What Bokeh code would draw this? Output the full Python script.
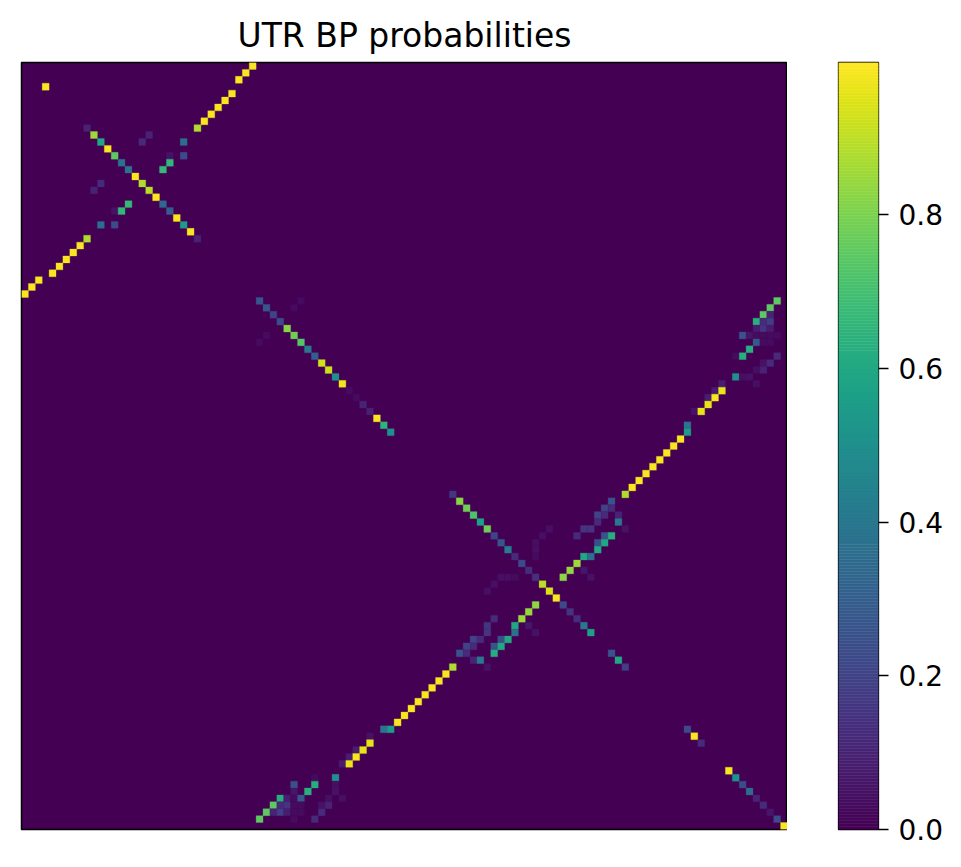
import numpy as np
from bokeh.plotting import figure
from bokeh.layouts import row
from bokeh.models import (ColumnDataSource, LinearColorMapper, FixedTicker,
                          PrintfTickFormatter, Range1d)
from bokeh.palettes import Viridis256
from bokeh.embed import file_html
from bokeh.resources import INLINE

N = 111
VMAX = 0.998
TITLE = "UTR BP probabilities"
cbar_ticks = [0.0, 0.2, 0.4, 0.6, 0.8]

# Main-diagonal cells
diag_idx = [3,
            9, 10, 11, 12, 13, 14, 15, 16, 17, 18, 19, 20, 21, 22, 23, 24, 25,
            34, 35, 36, 37, 38, 39, 40, 41, 42, 43, 44, 45, 46, 47, 48, 49, 50, 51, 52, 53,
            62, 63, 64, 65, 66, 67, 68, 69, 70, 71, 72, 73, 74, 75, 76, 77, 78, 79, 80, 81, 82,
            85, 86, 87,
            96, 97, 98,
            102, 103, 104, 105, 106, 107, 108, 109, 110]
diag_p = [0.99,
          0.10, 0.85, 0.60, 0.99, 0.75, 0.37, 0.38, 0.99, 0.88, 0.89, 0.99, 0.34, 0.30, 0.99, 0.55, 0.99, 0.10,
          0.26, 0.26, 0.20, 0.23, 0.82, 0.78, 0.73, 0.40, 0.30, 0.93, 0.92, 0.50, 0.98, 0.03, 0.03, 0.10, 0.09, 0.99, 0.65, 0.50,
          0.15, 0.82, 0.78, 0.72, 0.57, 0.78, 0.20, 0.26, 0.42, 0.12, 0.22, 0.13, 0.14, 0.90, 0.94, 0.99, 0.22, 0.15, 0.13, 0.40, 0.57,
          0.25, 0.60, 0.18,
          0.22, 0.99, 0.12,
          0.99, 0.50, 0.23, 0.35, 0.10, 0.12, 0.06, 0.23, 0.99]

# Off-diagonal pairs (upper triangle, mirrored below)
pair_i = [0, 1, 2, 4, 5, 6, 7, 8, 9,
          10, 11, 11, 13, 13, 14, 15,
          34, 35, 36, 36, 37, 37, 37, 38, 38, 38, 39, 39, 39, 39, 39, 39, 40, 40, 40,
          41, 42, 42, 42, 43, 43, 44, 44, 45, 45, 45, 46, 46, 47, 47, 48, 48, 49,
          50, 50, 52, 53, 54, 55, 56, 57, 58, 59, 60, 61, 62,
          63, 64, 64, 65, 65, 65, 66, 66, 67, 67, 67, 67, 68, 68, 68, 68, 69, 69, 69,
          70, 70, 71, 71, 71, 72, 73, 73, 74, 74,
          34, 35]
pair_j = [33, 32, 31, 30, 29, 28, 27, 26, 25,
          18, 17, 23, 21, 23, 21, 20,
          109, 108, 107, 108, 106, 107, 108, 106, 107, 108, 104, 105, 106, 107, 108, 109, 106, 107, 108,
          105, 103, 104, 109, 107, 108, 106, 107, 103, 104, 105, 101, 106, 100, 101, 99, 100, 99,
          97, 98, 96, 96, 95, 94, 93, 92, 91, 90, 89, 88, 87,
          85, 84, 85, 83, 84, 86, 83, 86, 81, 82, 76, 87, 75, 80, 84, 85, 74, 83, 84,
          74, 83, 74, 81, 82, 80, 79, 81, 78, 82,
          40, 39]
pair_p = [0.99, 0.99, 0.99, 0.99, 0.99, 0.99, 0.99, 0.99, 0.88,
          0.10, 0.12, 0.36, 0.05, 0.23, 0.66, 0.67,
          0.75, 0.75, 0.75, 0.10, 0.63, 0.12, 0.18, 0.08, 0.15, 0.08, 0.25, 0.06, 0.03, 0.03, 0.03, 0.03, 0.27, 0.03, 0.03,
          0.63, 0.03, 0.62, 0.12, 0.05, 0.12, 0.04, 0.10, 0.50, 0.04, 0.05, 0.08, 0.04, 0.08, 0.97, 0.08, 0.99, 0.96,
          0.05, 0.96, 0.38, 0.55, 0.99, 0.99, 0.99, 0.99, 0.99, 0.99, 0.99, 0.99, 0.88,
          0.25, 0.20, 0.12, 0.20, 0.12, 0.10, 0.12, 0.40, 0.15, 0.15, 0.04, 0.05, 0.04, 0.12, 0.25, 0.62, 0.04, 0.24, 0.60,
          0.04, 0.60, 0.03, 0.60, 0.37, 0.85, 0.84, 0.06, 0.83, 0.05,
          0.03, 0.03]

rows, cols, vals = [], [], []
for i, j, v in zip(pair_i, pair_j, pair_p):
    rows += [i, j]
    cols += [j, i]
    vals += [v, v]
for k, v in zip(diag_idx, diag_p):
    rows.append(k)
    cols.append(k)
    vals.append(v)

src = ColumnDataSource(dict(x=np.array(cols) + 0.5, y=np.array(rows) + 0.5, v=vals))
mapper = LinearColorMapper(palette=Viridis256, low=0.0, high=VMAX)

# ---- heatmap ----
p = figure(frame_width=766, frame_height=767,
           x_range=Range1d(0, N), y_range=Range1d(N, 0),
           output_backend="svg", toolbar_location=None, title=TITLE,
           min_border_left=21, min_border_top=62, min_border_bottom=20, min_border_right=0)
p.background_fill_color = Viridis256[0]
p.border_fill_color = "white"
p.rect(x="x", y="y", width=1, height=1, source=src,
       fill_color={"field": "v", "transform": mapper},
       line_color={"field": "v", "transform": mapper}, line_width=0.3)
p.axis.visible = False
p.grid.visible = False
p.outline_line_color = "black"
p.outline_line_width = 1.5
p.title.align = "center"
p.title.text_font = "DejaVu Sans"
p.title.text_font_size = "33px"
p.title.text_font_style = "normal"
p.title.text_color = "black"
p.title.standoff = 15

# ---- colour bar ----
edges = np.linspace(0.0, VMAX, len(Viridis256) + 1)
cb = figure(frame_width=40, frame_height=767,
            x_range=Range1d(0, 1), y_range=Range1d(0, VMAX),
            output_backend="svg", toolbar_location=None, y_axis_location="right",
            min_border_left=51, min_border_top=62, min_border_bottom=20, min_border_right=6)
cb.quad(left=0, right=1, bottom=edges[:-1], top=edges[1:],
        fill_color=list(Viridis256), line_color=list(Viridis256), line_width=0.5)
cb.xaxis.visible = False
cb.grid.visible = False
cb.outline_line_color = "black"
cb.outline_line_width = 1.3
ya = cb.yaxis[0]
ya.ticker = FixedTicker(ticks=cbar_ticks)
ya.formatter = PrintfTickFormatter(format="%.1f")
ya.axis_line_color = None
ya.major_tick_out = 10
ya.major_tick_in = 0
ya.major_tick_line_color = "black"
ya.major_tick_line_width = 1.3
ya.minor_tick_line_color = None
ya.major_label_standoff = 10
ya.major_label_text_font = "DejaVu Sans"
ya.major_label_text_font_size = "28px"
ya.major_label_text_color = "black"

layout = row(p, cb)
open("out.html", "w").write(file_html(layout, INLINE))
